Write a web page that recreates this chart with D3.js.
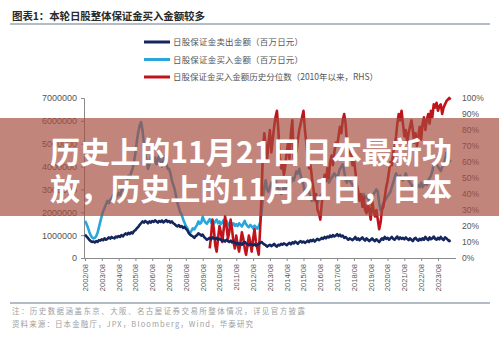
<!DOCTYPE html>
<html><head><meta charset="utf-8">
<script src="https://cdn.jsdelivr.net/npm/d3@7"></script>
<style>html,body{margin:0;padding:0;background:#fff;}svg{display:block;}</style>
</head><body>
<svg id="c" width="499" height="337"></svg>
<script>
// ---- data ----
const title = "图表1：本轮日股整体保证金买入金额较多";
const legendLabels = ["日股保证金卖出金额（百万日元）","日股保证金买入金额（百万日元）","日股保证金买入金额历史分位数（2010年以来，RHS）"];
const bannerLines = ["历史上的11月21日日本最新功","放，历史上的11月21日，日本"];
const notes = ["注：历史数据涵盖东京、大阪、名古屋证券交易所整体情况，详见官方披露","资料来源：日本金融厅，JPX，Bloomberg，Wind，华泰研究"];
const leftTicks = [0,1,2,3,4,5,6,7];          // millions -> shown as 0..7000000
const rightTicks = [0,10,20,30,40,50,60,70,80,90,100];
const tickYears = [2002,2003,2004,2005,2006,2007,2008,2009,2010,2011,2012,2013,2014,2015,2016,2017,2018,2019,2020,2021,2022,2023];
const seriesStart = "2002-08";   // monthly from here
const pctStart = "2010-01";      // monthly from here
// sell amount (million of 百万日元)
const sellAmt = [
1.02,0.95,0.88,0.80,0.74,0.70,0.72,0.68,0.74,0.70,0.78,0.76,
0.82,0.78,0.86,0.80,0.84,0.90,0.85,0.92,0.88,0.86,0.94,0.90,
0.96,0.92,1.00,0.95,1.02,1.08,1.02,1.10,1.05,1.12,1.08,1.18,
1.22,1.30,1.36,1.45,1.52,1.60,1.55,1.62,1.58,1.52,1.60,1.55,
1.62,1.58,1.65,1.60,1.55,1.62,1.58,1.64,1.56,1.60,1.66,1.58,
1.62,1.55,1.60,1.52,1.48,1.42,1.38,1.44,1.36,1.40,1.32,1.36,
1.28,1.22,1.10,1.02,0.98,0.94,0.88,0.96,1.00,1.08,1.04,0.98,
1.02,0.92,0.86,0.80,0.84,0.88,0.82,0.90,0.86,0.82,0.88,0.80,
0.84,0.80,0.74,0.78,0.72,0.80,0.74,0.70,0.76,0.68,0.72,0.66,
0.62,0.66,0.60,0.64,0.58,0.66,0.70,0.64,0.60,0.56,0.62,0.58,
0.56,0.60,0.54,0.58,0.62,0.66,0.70,0.64,0.60,0.56,0.50,0.54,
0.58,0.52,0.56,0.62,0.54,0.50,0.58,0.55,0.62,0.58,0.64,0.60,
0.56,0.62,0.66,0.60,0.68,0.64,0.72,0.68,0.62,0.70,0.74,0.68,
0.72,0.66,0.70,0.76,0.70,0.78,0.74,0.80,0.72,0.78,0.84,0.78,
0.82,0.88,0.84,0.92,0.86,0.94,0.90,0.98,0.92,1.00,0.94,0.98,
1.04,0.96,1.02,0.94,0.98,0.88,0.92,0.86,0.80,0.86,0.82,0.78,
0.84,0.92,0.80,0.86,0.78,0.84,0.90,0.82,0.76,0.86,0.80,0.74,
0.80,0.86,0.78,0.74,0.82,0.76,0.70,0.78,0.86,0.80,0.92,0.84,
0.88,0.80,0.86,0.92,0.84,0.80,0.88,0.94,0.82,0.90,0.84,0.88,
0.82,0.90,0.84,0.78,0.86,0.80,0.74,0.84,0.88,0.80,0.76,0.84,
0.78,0.86,0.80,0.92,0.84,0.78,0.90,0.82,0.86,0.94,0.84,0.80,
0.88,0.82,0.92,0.84,0.78,0.90,0.86,0.80,0.74,0.78];
// buy amount (million of 百万日元)
const buyAmt = [
1.62,1.50,1.35,1.15,1.00,0.90,0.86,0.88,0.95,1.10,1.35,1.60,
1.85,2.05,2.20,2.35,2.50,2.40,2.55,2.60,2.75,2.60,2.80,2.70,
2.85,2.75,2.95,3.05,2.95,3.15,3.40,3.60,3.50,3.75,3.90,4.20,
4.60,5.10,5.50,5.80,5.95,5.60,5.00,4.60,4.20,3.90,4.10,4.40,
4.50,4.20,4.40,4.10,4.30,4.50,4.20,4.00,4.30,4.45,4.20,3.90,
3.90,3.70,3.40,3.20,3.00,2.70,2.40,2.20,2.00,1.90,1.70,1.55,
1.40,1.30,1.15,1.10,1.20,1.30,1.25,1.35,1.45,1.60,1.50,1.55,
1.80,1.65,1.55,1.50,1.60,1.70,1.55,1.65,1.50,1.60,1.68,1.52,
1.60,1.48,1.56,1.66,1.52,1.62,1.50,1.42,1.55,1.45,1.52,1.40,
1.48,1.40,1.52,1.45,1.38,1.50,1.62,1.48,1.40,1.35,1.45,1.38,
1.30,1.42,1.35,1.28,1.40,1.55,2.00,2.60,3.10,3.40,3.00,2.90,
3.10,3.30,3.20,3.50,3.40,3.20,2.90,3.00,2.80,2.90,3.10,3.00,
3.20,3.40,3.10,3.30,3.50,3.40,3.60,3.80,3.70,3.90,3.60,3.40,
3.20,2.80,3.00,3.10,2.90,2.60,2.50,2.70,2.60,2.50,2.40,2.60,
2.70,2.80,2.90,3.30,3.40,3.50,3.30,3.40,3.50,3.60,3.70,3.60,
3.50,3.70,3.90,4.00,4.10,3.80,3.40,3.30,3.50,3.40,3.30,3.20,
3.10,3.30,2.90,2.70,2.50,2.60,2.70,2.80,2.60,2.70,2.60,2.50,
2.50,2.60,2.80,2.90,3.00,2.90,2.40,2.10,2.20,2.40,2.50,2.60,
2.70,2.80,2.90,3.10,3.30,3.50,3.70,3.60,3.50,3.60,3.50,3.40,
3.50,3.70,3.50,3.40,3.30,3.20,3.10,3.20,3.00,3.10,3.20,3.10,
3.30,3.10,3.20,3.30,3.20,3.40,3.50,3.60,3.80,4.10,4.20,4.10,
4.00,3.90,3.80,4.00,4.10,4.30,4.60,4.40,4.20,4.30];
// buy-amount historical percentile since 2010 (%)
const buyPct = [
6,14,24,18,8,4,12,20,16,10,18,26,
20,12,16,24,18,10,6,14,8,4,10,16,
12,6,2,8,14,10,4,12,18,10,6,2,
18,40,65,78,70,62,72,80,66,74,82,88,
92,80,64,56,60,52,58,66,72,62,78,86,
62,70,66,74,80,84,88,92,80,72,62,56,
58,50,44,36,40,30,28,24,34,42,52,48,
56,50,60,64,58,66,72,70,76,82,78,86,
90,84,72,64,70,66,58,62,54,46,42,36,
40,32,38,30,28,34,30,24,36,30,26,30,
24,18,22,30,32,38,44,48,54,60,58,66,
70,76,84,90,86,92,84,76,80,72,78,82,
86,80,72,78,70,76,82,74,84,88,80,86,
90,84,92,88,96,94,97,92,95,96,90,94,
96,98,99,100,99];
const colors = {sell:"#14265c", buy:"#2aa6dd", pct:"#c0141c"};

// ---- drawing ----
const svg = d3.select("#c");
const parse = d3.timeParse("%Y-%m");
const s0 = parse(seriesStart), p0 = parse(pctStart);
const sellData = sellAmt.map((v,i)=>({d:d3.timeMonth.offset(s0,i), v}));
const buyData = buyAmt.map((v,i)=>({d:d3.timeMonth.offset(s0,i), v}));
const pctData = buyPct.map((v,i)=>({d:d3.timeMonth.offset(p0,i), v}));

const x = d3.scaleTime().domain([parse("2002-08"), parse("2024-06")]).range([85, 452]);
const yL = d3.scaleLinear().domain([0,7]).range([258, 98]);
const yR = d3.scaleLinear().domain([0,100]).range([258, 98]);

// title
svg.append("text").attr("x",12).attr("y",20).text(title)
  .attr("font-family","'Noto Sans CJK SC'").attr("font-weight","bold").attr("font-size",10.5)
  .attr("fill","#2a2a2a").attr("textLength",193).attr("lengthAdjust","spacing");
svg.append("line").attr("x1",10).attr("x2",490).attr("y1",24).attr("y2",24).attr("stroke","#9aa6b3").attr("stroke-width",1.5);

// legend
const legY = [42,59.5,77];
const legKeys = ["sell","buy","pct"];
const legLen = [130,130,205];
legendLabels.forEach((t,i)=>{
  svg.append("line").attr("x1",144).attr("x2",170).attr("y1",legY[i]).attr("y2",legY[i])
    .attr("stroke",colors[legKeys[i]]).attr("stroke-width",3);
  svg.append("text").attr("x",173).attr("y",legY[i]+3).text(t)
    .attr("font-family","'Noto Sans CJK SC'").attr("font-size",8.5).attr("fill","#555")
    .attr("textLength",legLen[i]).attr("lengthAdjust","spacing");
});

// axes
const gL = svg.append("g").attr("transform","translate(84,0)")
  .call(d3.axisLeft(yL).tickValues(leftTicks).tickFormat(d=>d3.format("d")(d*1000000)).tickSize(3).tickPadding(4));
gL.selectAll("text").attr("font-family","'Liberation Sans',Arial").attr("font-size",9).attr("fill","#555");
gL.selectAll("line,path").attr("stroke","#8a8a8a");

const gR = svg.append("g").attr("transform","translate(456,0)")
  .call(d3.axisRight(yR).tickValues(rightTicks).tickFormat(d=>d+"%").tickSize(0).tickPadding(6));
gR.select("path").remove();
gR.selectAll("text").attr("font-family","'Liberation Sans',Arial").attr("font-size",8.5).attr("fill","#555");

const gX = svg.append("g").attr("transform","translate(0,258)")
  .call(d3.axisBottom(x).tickValues(tickYears.map(y=>new Date(y,7,1))).tickFormat(d3.timeFormat("%Y/%m")).tickSize(3).tickSizeOuter(0));
gX.select("path").attr("d","M84,0.5H456");
gX.selectAll("line,path").attr("stroke","#8a8a8a");
gX.selectAll("text").attr("font-family","'Liberation Sans',Arial").attr("font-size",7.5).attr("fill","#555")
  .attr("transform","rotate(-90)").attr("text-anchor","end").attr("dx","-6").attr("y",0).attr("x",0).attr("dy","0.32em");

// lines
const lineL = d3.line().x(d=>x(d.d)).y(d=>yL(d.v));
const lineR = d3.line().x(d=>x(d.d)).y(d=>yR(d.v));
svg.append("path").datum(buyData).attr("d",lineL).attr("fill","none").attr("stroke",colors.buy).attr("stroke-width",2.6).attr("stroke-linejoin","round");
svg.append("path").datum(pctData).attr("d",lineR).attr("fill","none").attr("stroke",colors.pct).attr("stroke-width",2.6).attr("stroke-linejoin","round");
svg.append("path").datum(sellData).attr("d",lineL).attr("fill","none").attr("stroke",colors.sell).attr("stroke-width",2.6).attr("stroke-linejoin","round");

// banner overlay
svg.append("rect").attr("x",0).attr("y",118).attr("width",499).attr("height",98).attr("fill","rgba(165,75,60,0.68)");
const bY = [163,200];
bannerLines.forEach((t,i)=>{
  svg.append("text").attr("x",50).attr("y",bY[i]).text(t)
    .attr("font-family","'Noto Sans CJK SC'").attr("font-weight","bold").attr("font-size",30)
    .attr("fill","#fff").attr("textLength",402).attr("lengthAdjust","spacingAndGlyphs");
});

// bottom notes
svg.append("line").attr("x1",10).attr("x2",490).attr("y1",303).attr("y2",303).attr("stroke","#9aa6b3").attr("stroke-width",1.5);
const nY = [314,327], nLen=[293,241];
notes.forEach((t,i)=>{
  svg.append("text").attr("x",12).attr("y",nY[i]).text(t)
    .attr("font-family","'Noto Sans CJK SC'").attr("font-size",7.5).attr("fill","#a0a0a0")
    .attr("textLength",nLen[i]).attr("lengthAdjust","spacing");
});
</script>
</body></html>
